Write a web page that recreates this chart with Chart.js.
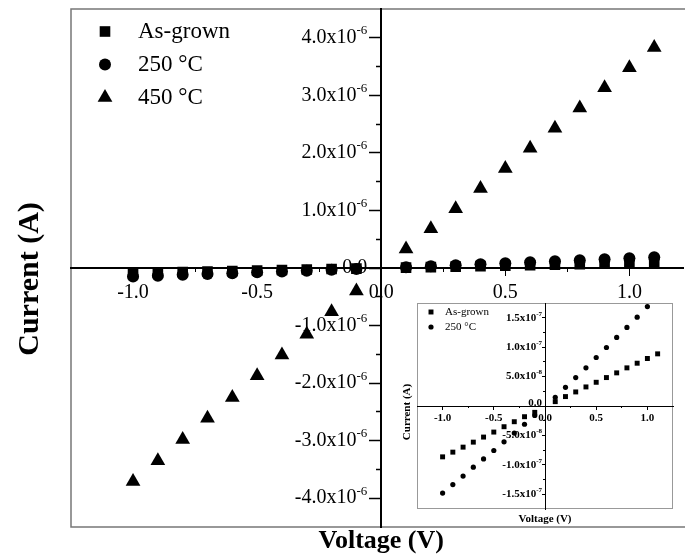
<!DOCTYPE html>
<html><head><meta charset="utf-8">
<script src="https://cdn.jsdelivr.net/npm/chart.js@4.4.0/dist/chart.umd.min.js"></script>
<style>
html,body{margin:0;padding:0;background:#fff;overflow:hidden;}
#wrap{position:relative;width:685px;height:556px;overflow:hidden;}
#main{position:absolute;left:0;top:0;}
#inset{position:absolute;left:395px;top:298px;}
</style></head><body>
<div id="wrap"><canvas id="main" width="692" height="556"></canvas><canvas id="inset" width="290" height="232"></canvas></div>
<script>
// ---- data ----
const voltage = [-1.0,-0.9,-0.8,-0.7,-0.6,-0.5,-0.4,-0.3,-0.2,-0.1,0.1,0.2,0.3,0.4,0.5,0.6,0.7,0.8,0.9,1.0,1.1];
const currentAsGrown = [-8.64e-8,-7.84e-8,-6.99e-8,-6.14e-8,-5.28e-8,-4.43e-8,-3.52e-8,-2.67e-8,-1.82e-8,-1.08e-8,0.74e-8,1.6e-8,2.39e-8,3.24e-8,4.03e-8,4.83e-8,5.63e-8,6.48e-8,7.27e-8,8.07e-8,8.86e-8];
const current250 = [-1.48e-7,-1.335e-7,-1.19e-7,-1.04e-7,-0.9e-7,-0.756e-7,-0.608e-7,-0.46e-7,-0.31e-7,-0.16e-7,1.48e-8,3.18e-8,4.83e-8,6.48e-8,8.24e-8,9.94e-8,1.165e-7,1.335e-7,1.51e-7,1.69e-7,1.86e-7];
const current450 = [-3.71e-6,-3.35e-6,-2.98e-6,-2.61e-6,-2.25e-6,-1.87e-6,-1.51e-6,-1.15e-6,-0.76e-6,-0.40e-6,0.33e-6,0.68e-6,1.03e-6,1.38e-6,1.73e-6,2.08e-6,2.43e-6,2.78e-6,3.13e-6,3.48e-6,3.83e-6];
const seriesLabels = ['As-grown','250 \u00B0C','450 \u00B0C'];

const mainXTicks = [-1.0,-0.5,0.0,0.5,1.0];
const mainXTickLabels = ['-1.0','-0.5','0.0','0.5','1.0'];
const mainXMinorTicks = [-0.75,-0.25,0.25,0.75];
const mainYTicks = [-4e-6,-3e-6,-2e-6,-1e-6,0,1e-6,2e-6,3e-6,4e-6];
const mainYTickLabels = ['-4.0x10^-6','-3.0x10^-6','-2.0x10^-6','-1.0x10^-6','0.0','1.0x10^-6','2.0x10^-6','3.0x10^-6','4.0x10^-6'];
const mainYMinorTicks = [-3.5e-6,-2.5e-6,-1.5e-6,-0.5e-6,0.5e-6,1.5e-6,2.5e-6,3.5e-6];

const insetXTicks = [-1.0,-0.5,0.0,0.5,1.0];
const insetXTickLabels = ['-1.0','-0.5','0.0','0.5','1.0'];
const insetXMinorTicks = [-0.75,-0.25,0.25,0.75];
const insetYTicks = [-1.5e-7,-1.0e-7,-5e-8,0,5e-8,1.0e-7,1.5e-7];
const insetYTickLabels = ['-1.5x10^-7','-1.0x10^-7','-5.0x10^-8','0.0','5.0x10^-8','1.0x10^-7','1.5x10^-7'];
const insetYMinorTicks = [-1.25e-7,-7.5e-8,-2.5e-8,2.5e-8,7.5e-8,1.25e-7];

const xTitle = 'Voltage (V)';
const yTitle = 'Current (A)';

// ---- helpers ----
const SERIF = "'Liberation Serif', 'Times New Roman', serif";
function pts(ys){ return voltage.map((v,i)=>({x:v, y:ys[i]})); }
function fixedTicks(values){ return s => { s.ticks = values.map(v=>({value:v})); }; }

function makeAxis(o){
  return {
    type:'linear', min:o.min, max:o.max, position:o.position,
    afterBuildTicks: fixedTicks(o.ticks),
    ticks:{ display:false, autoSkip:false, maxRotation:0 },
    grid:{ drawOnChartArea:false, drawTicks:true, tickLength:o.tickLength, tickWidth:o.tickWidth||1, tickColor:'#000', color:'#000' },
    border:{ display:o.border!==false, color:'#000', width:o.borderWidth||1 }
  };
}

function drawMarker(ctx, style, x, y, r){
  ctx.beginPath();
  if(style==='rect'){ const s=r*Math.SQRT1_2; ctx.rect(x-s,y-s,2*s,2*s); }
  else if(style==='circle'){ ctx.arc(x,y,r,0,Math.PI*2); }
  else if(style==='triangle'){ ctx.moveTo(x,y-r); ctx.lineTo(x+r*0.866,y+r*0.5); ctx.lineTo(x-r*0.866,y+r*0.5); ctx.closePath(); }
  ctx.fillStyle='#000'; ctx.fill();
}

// draws "base^exp" with a raised, smaller exponent
function drawSupText(ctx, text, x, y, baseFont, supFont, align, raise){
  const parts = text.split('^');
  ctx.textBaseline='middle'; ctx.textAlign='left'; ctx.fillStyle='#000';
  ctx.font = baseFont; const wb = ctx.measureText(parts[0]).width;
  let we = 0;
  if(parts[1]){ ctx.font = supFont; we = ctx.measureText(parts[1]).width; }
  const w = wb + we;
  let x0 = align==='right' ? x - w : (align==='center' ? x - w/2 : x);
  ctx.font = baseFont; ctx.fillText(parts[0], x0, y);
  if(parts[1]){ ctx.font = supFont; ctx.fillText(parts[1], x0+wb, y-raise); }
}

function tickLabelPlugin(id, cfg){
  return {
    id,
    afterDraw(chart){
      const ctx = chart.ctx, xs = chart.scales.x, ys = chart.scales.y;
      const x0 = xs.getPixelForValue(0), y0 = ys.getPixelForValue(0);
      ctx.save();
      cfg.xTicks.forEach((v,i)=>{
        drawSupText(ctx, cfg.xLabels[i], xs.getPixelForValue(v), y0 + cfg.xOffset, cfg.baseFont, cfg.supFont, 'center', cfg.raise);
      });
      cfg.yTicks.forEach((v,i)=>{
        drawSupText(ctx, cfg.yLabels[i], x0 - cfg.yOffset, ys.getPixelForValue(v) + (v===0 ? cfg.zeroShift : 0), cfg.baseFont, cfg.supFont, 'right', cfg.raise);
      });
      ctx.restore();
    }
  };
}

// ---- main chart ----
const mainPlugin = {
  id:'mainDeco',
  beforeDraw(chart){
    const {ctx, chartArea:a} = chart;
    ctx.save();
    ctx.fillStyle='#fff'; ctx.fillRect(0,0,chart.width,chart.height);
    ctx.strokeStyle='#777'; ctx.lineWidth=1.5;
    ctx.beginPath();
    ctx.moveTo(chart.width,a.top); ctx.lineTo(a.left,a.top); ctx.lineTo(a.left,a.bottom); ctx.lineTo(chart.width,a.bottom);
    ctx.stroke();
    ctx.restore();
  },
  afterDraw(chart){
    const {ctx, chartArea:a} = chart;
    ctx.save();
    chart.data.datasets.forEach((ds,i)=>{
      const y = a.top + 22.5 + i*33;
      drawMarker(ctx, ds.pointStyle, a.left+34, y, ds.legendRadius);
      ctx.fillStyle='#000'; ctx.font = '23px '+SERIF; ctx.textBaseline='middle'; ctx.textAlign='left';
      ctx.fillText(ds.label, a.left+67, y);
    });
    ctx.font = 'bold 26px '+SERIF; ctx.textAlign='center'; ctx.textBaseline='middle';
    ctx.fillText(xTitle, chart.scales.x.getPixelForValue(0), 541);
    ctx.translate(30, 279); ctx.rotate(-Math.PI/2);
    ctx.font = 'bold 30px '+SERIF;
    ctx.fillText(yTitle, 0, 0);
    ctx.restore();
  }
};

new Chart(document.getElementById('main'), {
  type:'scatter',
  data:{ datasets:[
    {label:seriesLabels[0], data:pts(currentAsGrown), pointStyle:'rect', pointRadius:7.5, legendRadius:7.5, backgroundColor:'#000', borderColor:'#000', borderWidth:0, xAxisID:'x', yAxisID:'y'},
    {label:seriesLabels[1], data:pts(current250), pointStyle:'circle', pointRadius:6, legendRadius:6, backgroundColor:'#000', borderColor:'#000', borderWidth:0, xAxisID:'x', yAxisID:'y'},
    {label:seriesLabels[2], data:pts(current450), pointStyle:'triangle', pointRadius:8.5, legendRadius:8.5, backgroundColor:'#000', borderColor:'#000', borderWidth:0, xAxisID:'x', yAxisID:'y'}
  ]},
  options:{
    responsive:false, animation:false, devicePixelRatio:1,
    layout:{ padding:{left:71, top:9, right:0, bottom:29} },
    plugins:{ legend:{display:false}, tooltip:{enabled:false} },
    scales:{
      x: makeAxis({min:-1.25, max:1.218, position:{y:0}, ticks:mainXTicks, tickLength:7, borderWidth:2}),
      xm: makeAxis({min:-1.25, max:1.218, position:{y:0}, ticks:mainXMinorTicks, tickLength:4, border:false}),
      y: makeAxis({min:-4.5e-6, max:4.5e-6, position:{x:0}, ticks:mainYTicks, tickLength:11, tickWidth:1.5, borderWidth:2}),
      ym: makeAxis({min:-4.5e-6, max:4.5e-6, position:{x:0}, ticks:mainYMinorTicks, tickLength:5, tickWidth:1.5, border:false})
    }
  },
  plugins:[mainPlugin, tickLabelPlugin('mainTicks', {
    xTicks:mainXTicks, xLabels:mainXTickLabels, yTicks:mainYTicks, yLabels:mainYTickLabels,
    baseFont:'20px '+SERIF, supFont:'13px '+SERIF, raise:7, xOffset:25, yOffset:14, zeroShift:0
  })]
});

// ---- inset chart ----
const insetPlugin = {
  id:'insetDeco',
  beforeDraw(chart){
    const {ctx, chartArea:a} = chart;
    ctx.save();
    ctx.fillStyle='#fff'; ctx.fillRect(a.left,a.top,a.right-a.left,a.bottom-a.top);
    ctx.strokeStyle='#999'; ctx.lineWidth=1;
    ctx.strokeRect(a.left+0.5,a.top+0.5,a.right-a.left-1,a.bottom-a.top-1);
    ctx.restore();
  },
  afterDraw(chart){
    const {ctx, chartArea:a} = chart;
    ctx.save();
    chart.data.datasets.forEach((ds,i)=>{
      const y = a.top + 9 + i*15;
      drawMarker(ctx, ds.pointStyle, a.left+14, y, ds.legendRadius);
      ctx.fillStyle='#000'; ctx.font = '11px '+SERIF; ctx.textBaseline='middle'; ctx.textAlign='left';
      ctx.fillText(ds.label, a.left+28, y);
    });
    ctx.font = 'bold 11px '+SERIF; ctx.textAlign='center'; ctx.textBaseline='middle';
    ctx.fillText(xTitle, chart.scales.x.getPixelForValue(0), a.bottom+10);
    ctx.translate(a.left-10, (a.top+a.bottom)/2 + 6); ctx.rotate(-Math.PI/2);
    ctx.fillText(yTitle, 0, 0);
    ctx.restore();
  }
};

new Chart(document.getElementById('inset'), {
  type:'scatter',
  data:{ datasets:[
    {label:seriesLabels[0], data:pts(currentAsGrown), pointStyle:'rect', pointRadius:3.5, legendRadius:3.5, backgroundColor:'#000', borderColor:'#000', borderWidth:0, xAxisID:'x', yAxisID:'y'},
    {label:seriesLabels[1], data:pts(current250), pointStyle:'circle', pointRadius:2.6, legendRadius:2.6, backgroundColor:'#000', borderColor:'#000', borderWidth:0, xAxisID:'x', yAxisID:'y'}
  ]},
  options:{
    responsive:false, animation:false, devicePixelRatio:1,
    layout:{ padding:{left:22, top:5, right:12, bottom:21} },
    plugins:{ legend:{display:false}, tooltip:{enabled:false} },
    scales:{
      x: makeAxis({min:-1.25, max:1.25, position:{y:0}, ticks:insetXTicks, tickLength:3}),
      xm: makeAxis({min:-1.25, max:1.25, position:{y:0}, ticks:insetXMinorTicks, tickLength:2, border:false}),
      y: makeAxis({min:-1.75e-7, max:1.75e-7, position:{x:0}, ticks:insetYTicks, tickLength:3}),
      ym: makeAxis({min:-1.75e-7, max:1.75e-7, position:{x:0}, ticks:insetYMinorTicks, tickLength:2, border:false})
    }
  },
  plugins:[insetPlugin, tickLabelPlugin('insetTicks', {
    xTicks:insetXTicks, xLabels:insetXTickLabels, yTicks:insetYTicks, yLabels:insetYTickLabels,
    baseFont:'bold 11px '+SERIF, supFont:'bold 7px '+SERIF, raise:4, xOffset:12, yOffset:3, zeroShift:-3
  })]
});
</script>
</body></html>
